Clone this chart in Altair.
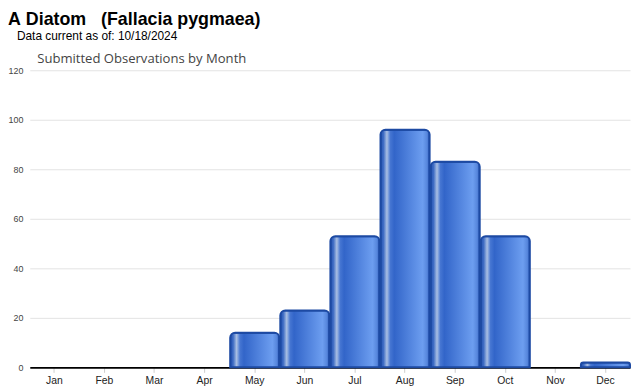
import altair as alt
import pandas as pd

months = ["Jan", "Feb", "Mar", "Apr", "May", "Jun", "Jul", "Aug", "Sep", "Oct", "Nov", "Dec"]
counts = [0, 0, 0, 0, 14, 23, 53, 96, 83, 53, 0, 2]
y_ticks = [0, 20, 40, 60, 80, 100, 120]

title_text = "A\u00a0Diatom\u00a0\u00a0\u00a0(Fallacia\u00a0pygmaea)"
subtitle_text = "\u200b\u2002\u2005Data current as of: 10/18/2024"
chart_title = "Submitted Observations by Month"

df = pd.DataFrame({"month": months, "count": counts})

grad = alt.LinearGradient(
    gradient="linear",
    x1=0, x2=1, y1=0, y2=0,
    stops=[
        alt.GradientStop(offset=0.0, color="#2452b0"),
        alt.GradientStop(offset=0.06, color="#3e6cc4"),
        alt.GradientStop(offset=0.13, color="#a9bfe3"),
        alt.GradientStop(offset=0.2, color="#4676d2"),
        alt.GradientStop(offset=0.28, color="#3265c9"),
        alt.GradientStop(offset=0.86, color="#6d9ef0"),
        alt.GradientStop(offset=0.95, color="#5686dc"),
        alt.GradientStop(offset=1.0, color="#2a58b8"),
    ],
)

chart = (
    alt.Chart(df)
    .transform_filter("datum.count > 0")
    .mark_bar(
        fill=grad,
        stroke="#1d4aa3",
        strokeWidth=2,
        cornerRadiusTopLeft=5,
        cornerRadiusTopRight=5,
    )
    .encode(
        x=alt.X(
            "month:N",
            sort=months,
            scale=alt.Scale(domain=months, paddingInner=0.02, paddingOuter=0),
            axis=alt.Axis(
                title=None,
                labelAngle=0,
                labelFont="Liberation Sans",
                labelFontSize=10.5,
                labelColor="#222222",
                labelPadding=3,
                domainColor="#000000",
                domainWidth=2,
                tickColor="#cccccc",
                tickSize=5,
                grid=False,
            ),
        ),
        y=alt.Y(
            "count:Q",
            scale=alt.Scale(domain=[0, 120], nice=False),
            axis=alt.Axis(
                values=y_ticks,
                title=chart_title,
                titleAngle=0,
                titleAlign="left",
                titleBaseline="alphabetic",
                titleX=7,
                titleY=-8,
                titleFont="Open Sans",
                titleFontSize=13.2,
                titleFontWeight="normal",
                titleColor="#444444",
                labelFont="Liberation Sans",
                labelFontSize=9,
                labelColor="#444444",
                labelPadding=7,
                tickSize=0,
                domain=False,
                gridColor="#e3e3e3",
            ),
        ),
        tooltip=["month:N", "count:Q"],
    )
    .properties(
        width=606,
        height=300,
        autosize=alt.AutoSizeParams(type="none"),
        padding={"left": 22, "top": 61, "right": 2, "bottom": 20},
        title=alt.TitleParams(
            text=title_text,
            subtitle=subtitle_text,
            anchor="start",
            frame="group",
            dx=-22,
            offset=10,
            font="Liberation Sans",
            fontSize=18,
            fontWeight="bold",
            color="#000000",
            subtitleFont="Liberation Sans",
            subtitleFontSize=12,
            subtitleColor="#000000",
            subtitlePadding=2,
        ),
    )
    .configure_view(stroke=None)
)

chart.save("out.html", embed_options={"renderer": "svg", "actions": False})
